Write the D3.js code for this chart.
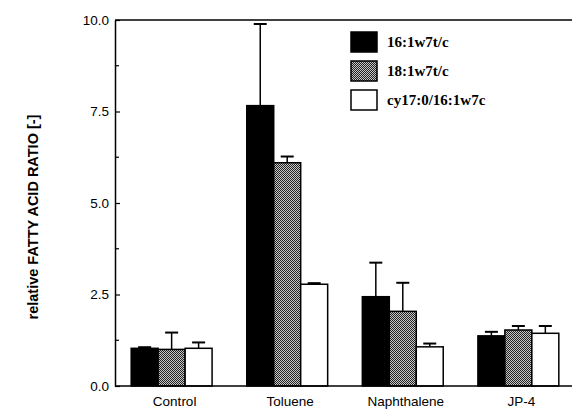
<!DOCTYPE html>
<html>
<head>
<meta charset="utf-8">
<script src="https://d3js.org/d3.v7.min.js"></script>
<style>
  body { margin: 0; background: #fff; }
  svg { display: block; }
  .tick text { font-family: "Liberation Sans", Arial, sans-serif; }
</style>
</head>
<body>
<script>
// data
var groups = ["Control", "Toluene", "Naphthalene", "JP-4"];
var series = ["16:1w7t/c", "18:1w7t/c", "cy17:0/16:1w7c"];
var means16 = [1.03, 7.66, 2.44, 1.37];
var err16   = [1.06, 9.89, 3.37, 1.48];
var means18 = [1.00, 6.10, 2.04, 1.53];
var err18   = [1.46, 6.27, 2.82, 1.64];
var meansCy = [1.03, 2.78, 1.07, 1.44];
var errCy   = [1.19, 2.81, 1.16, 1.64];
var yTicks = [0, 2.5, 5, 7.5, 10];
var yMinor = [1.25, 3.75, 6.25, 8.75];

var W = 572, H = 411;
var svg = d3.select("body").append("svg")
  .attr("width", W).attr("height", H);

// fine dither for the middle series
var defs = svg.append("defs");
var pat = defs.append("pattern")
  .attr("id", "dots")
  .attr("width", 2).attr("height", 2)
  .attr("patternUnits", "userSpaceOnUse");
pat.append("rect").attr("width", 2).attr("height", 2).attr("fill", "#c8c8c8");
pat.append("rect").attr("width", 1).attr("height", 1).attr("fill", "#222");
pat.append("rect").attr("x", 1).attr("y", 1).attr("width", 1).attr("height", 1).attr("fill", "#222");

var fills = ["#000", "url(#dots)", "#fff"];
var means = [means16, means18, meansCy];
var errs = [err16, err18, errCy];

var x0 = d3.scaleBand().domain(groups).range([115, 575])
  .paddingInner(0.3).paddingOuter(0.14);
var x1 = d3.scaleBand().domain(d3.range(series.length))
  .range([0, x0.bandwidth()]);
var y = d3.scaleLinear().domain([0, 10]).range([386, 20]);

// rows for bars
var rows = [];
groups.forEach(function (g, gi) {
  series.forEach(function (s, si) {
    rows.push({ g: g, si: si, v: means[si][gi], e: errs[si][gi] });
  });
});

var bars = svg.append("g");
// error bars (upper only), drawn before bars
bars.selectAll("line.err").data(rows).enter().append("line")
  .attr("x1", function (d) { return x0(d.g) + x1(d.si) + x1.bandwidth() / 2; })
  .attr("x2", function (d) { return x0(d.g) + x1(d.si) + x1.bandwidth() / 2; })
  .attr("y1", function (d) { return y(d.v); })
  .attr("y2", function (d) { return y(d.e); })
  .attr("stroke", "#000").attr("stroke-width", 1.5);
bars.selectAll("line.cap").data(rows).enter().append("line")
  .attr("x1", function (d) { return x0(d.g) + x1(d.si) + x1.bandwidth() / 2 - 6.5; })
  .attr("x2", function (d) { return x0(d.g) + x1(d.si) + x1.bandwidth() / 2 + 6.5; })
  .attr("y1", function (d) { return y(d.e); })
  .attr("y2", function (d) { return y(d.e); })
  .attr("stroke", "#000").attr("stroke-width", 2);

bars.selectAll("rect").data(rows).enter().append("rect")
  .attr("x", function (d) { return x0(d.g) + x1(d.si); })
  .attr("y", function (d) { return y(d.v); })
  .attr("width", x1.bandwidth())
  .attr("height", function (d) { return y(0) - y(d.v); })
  .attr("fill", function (d) { return fills[d.si]; })
  .attr("stroke", "#000").attr("stroke-width", 1.5);

// frame: left, top and bottom lines
svg.append("line").attr("x1", 115).attr("x2", W).attr("y1", y(10)).attr("y2", y(10))
  .attr("stroke", "#000").attr("stroke-width", 1.5);
svg.append("line").attr("x1", 115).attr("x2", W).attr("y1", y(0)).attr("y2", y(0))
  .attr("stroke", "#000").attr("stroke-width", 1.5);

// y axis with inward ticks
var yAxis = d3.axisLeft(y).tickValues(yTicks).tickFormat(d3.format(".1f"))
  .tickSizeInner(-5).tickSizeOuter(0).tickPadding(10);
var gy = svg.append("g").attr("transform", "translate(115,0)").call(yAxis);
gy.select(".domain").attr("stroke-width", 1.5);
gy.selectAll(".tick line").attr("stroke-width", 1.2);
gy.selectAll(".tick text").attr("font-size", 13.5).attr("fill", "#000").attr("x", -6);
gy.selectAll(".minor").data(yMinor).enter().append("line")
  .attr("class", "minor")
  .attr("x1", 0).attr("x2", 4)
  .attr("y1", function (d) { return y(d); })
  .attr("y2", function (d) { return y(d); })
  .attr("stroke", "#000").attr("stroke-width", 1.2);

// category labels
svg.selectAll("text.cat").data(groups).enter().append("text")
  .attr("class", "cat")
  .attr("x", function (d) { return x0(d) + x0.bandwidth() / 2 + 3; })
  .attr("y", 406)
  .attr("text-anchor", "middle")
  .attr("font-family", "Liberation Sans, Arial, sans-serif")
  .attr("font-size", 13.5)
  .text(function (d) { return d; });

// y title
svg.append("text")
  .attr("transform", "translate(38,217) rotate(-90)")
  .attr("text-anchor", "middle")
  .attr("font-family", "Liberation Sans, Arial, sans-serif")
  .attr("font-weight", "bold")
  .attr("font-size", 14.5)
  .text("relative FATTY ACID RATIO [-]");

// legend
var leg = svg.append("g").attr("transform", "translate(351,32)");
series.forEach(function (s, i) {
  leg.append("rect")
    .attr("x", 0).attr("y", i * 29)
    .attr("width", 26).attr("height", 20)
    .attr("fill", fills[i]).attr("stroke", "#000").attr("stroke-width", 1.5);
  leg.append("text")
    .attr("x", 36).attr("y", i * 29 + 15)
    .attr("font-family", "Liberation Serif, Times New Roman, serif")
    .attr("font-weight", "bold")
    .attr("font-size", 15)
    .text(s);
});
</script>
</body>
</html>
